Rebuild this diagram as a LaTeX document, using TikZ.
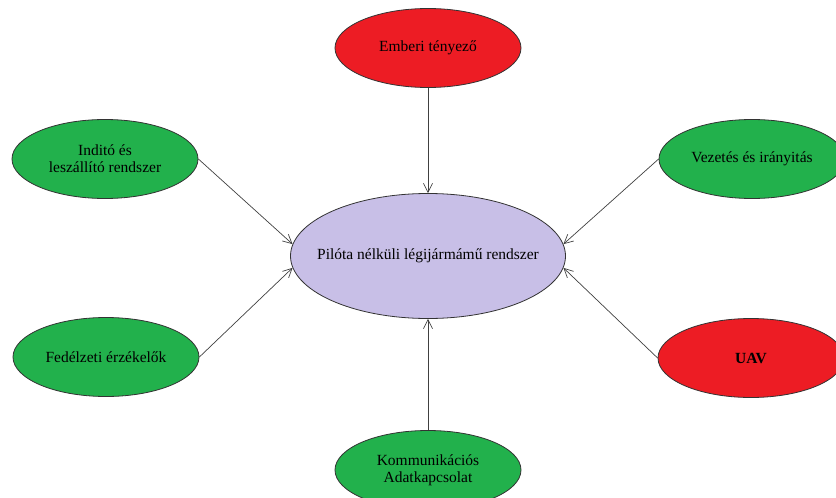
\documentclass[tikz,border=0pt]{standalone}
\usepackage{fontspec}
\setmainfont{Liberation Serif}
\usetikzlibrary{shapes.geometric,arrows.meta}
\definecolor{ovred}{HTML}{ED1C24}
\definecolor{ovgreen}{HTML}{22B14C}
\definecolor{ovlav}{HTML}{C8BFE7}
\begin{document}
\begin{tikzpicture}[x=1pt,y=-1pt,
  oval/.style={ellipse, draw=black!80, line width=0.8pt, inner sep=0pt,
    minimum width=186pt, minimum height=79pt, align=center,
    font=\fontsize{15.5}{17}\selectfont},
  redoval/.style={oval, fill=ovred},
  greenoval/.style={oval, fill=ovgreen},
  hub/.style={oval, fill=ovlav, minimum width=275pt, minimum height=125pt},
  link/.style={draw=black!75, line width=0.7pt,
    -{Straight Barb[length=9pt,width=9pt,line width=0.7pt]}}]
\useasboundingbox (0,0) rectangle (836,498);

% central system; the label is given zero width so the fixed ellipse size holds
\node[hub] (c) at (428,256) {\makebox[0pt][c]{Pilóta nélküli légijármámű rendszer}};

\node[redoval] (human) at (428,48) {Emberi tényező};
\node[greenoval] (launch) at (105,159) {Inditó és\\leszállító rendszer};
\node[greenoval] (nav) at (752,159) {Vezetés és irányitás};
\node[greenoval] (sens) at (106,357) {Fedélzeti érzékelők};
\node[redoval] (uav) at (751,358) {\textbf{UAV}};
\node[greenoval] (comm) at (428,470) {Kommunikációs\\Adatkapcsolat};

\draw[link] (human.south) -- (c.north);
\draw[link] (launch.east) -- (c.175);
\draw[link] (sens.east) -- (c.185);
\draw[link] (nav.west) -- (c.5);
\draw[link] (uav.west) -- (c.355);
\draw[link] (comm.north) -- (c.south);
\end{tikzpicture}
\end{document}
